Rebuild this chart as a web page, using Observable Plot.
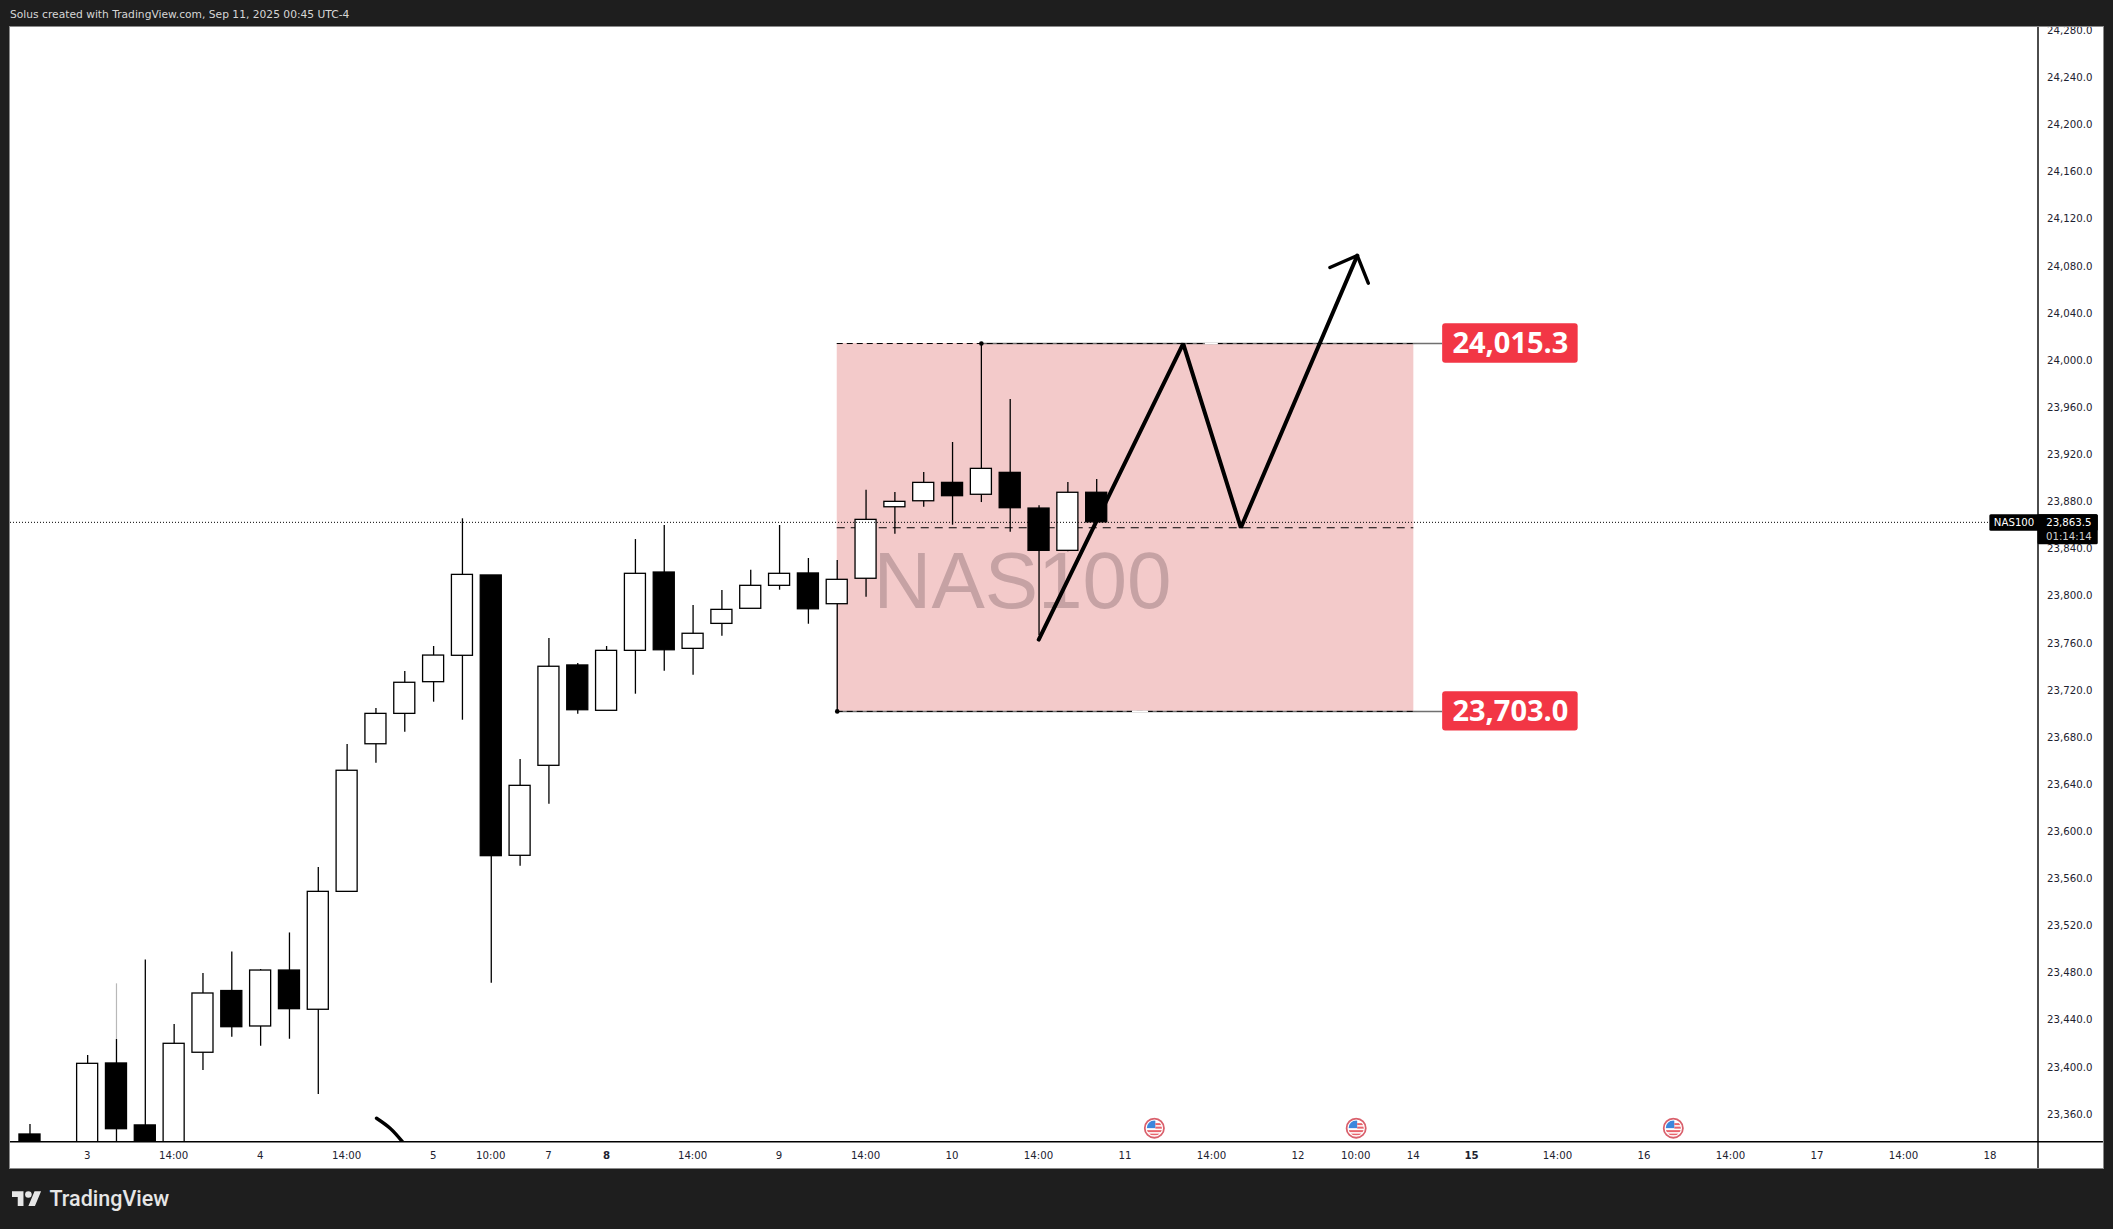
<!DOCTYPE html>
<html><head><meta charset="utf-8">
<script src="https://cdn.jsdelivr.net/npm/d3@7"></script>
<script src="https://cdn.jsdelivr.net/npm/@observablehq/plot@0.6"></script>
<style>
html,body{margin:0;padding:0;background:#1e1e1e;width:2113px;height:1229px;overflow:hidden}
#hdr{position:absolute;left:10px;top:7px;color:#d6d6d6;font:10.7px/16px "DejaVu Sans",sans-serif;white-space:nowrap}
#chart{position:absolute;left:10px;top:27px}
#chart svg{display:block;outline:1px solid #8a8a8a}
#logo{position:absolute;left:12px;top:1187px;display:flex;align-items:center;color:#e6e6e6;font:500 21.5px/24px Roboto,sans-serif}
#logo svg{margin-right:8px;display:block}
</style></head><body>
<div id="hdr">Solus created with TradingView.com, Sep 11, 2025 00:45 UTC-4</div>
<div id="chart"></div>
<div id="logo"><svg width="29.5" height="23" viewBox="0 0 36 28" fill="#e6e6e6"><path d="M14 22H7V11H0V4h14v18zM28 22h-8l7.5-18h8L28 22z"/><circle cx="20" cy="8" r="4"/></svg><span>TradingView</span></div>
<script>
// ---- data ----
const index  = [0,2,3,4,5,6,7,8,9,10,11,12,13,14,15,16,17,18,19,20,21,22,23,24,25,26,27,28,29,30,31,32,33,34,35,36,37];
const open   = [23343.8,23300,23404.1,23351.5,23300,23413.2,23465.6,23435.5,23483,23449.7,23549.8,23675.1,23700.9,23727.8,23750.2,23818.4,23580.4,23656.8,23742,23703.5,23754.4,23820.9,23756.1,23777.3,23790.1,23809.6,23820.1,23794,23815.6,23876.3,23881.4,23897,23886.9,23905.5,23875.2,23839.3,23888.6];
const close  = [23320,23403.8,23348.3,23300,23420.8,23463.5,23434.9,23483,23450.2,23549.8,23652.6,23700.9,23727.3,23750.4,23818.9,23580.1,23639.8,23740.9,23704,23754.4,23819.8,23754.9,23768.9,23789.2,23809.6,23819.8,23789.7,23814.7,23865.6,23880.9,23897,23885.7,23908.9,23875.5,23839.3,23888.6,23863.5];
const high   = [23352.3,23410.9,23424.5,23491.9,23437.2,23480.5,23498.8,23483.9,23514.9,23570.5,23674.9,23705.4,23736.9,23758.1,23866.5,23818.4,23662.2,23764.9,23743.7,23758.1,23848.9,23860.8,23792.9,23805.6,23822.9,23860.8,23832.8,23831.1,23890.8,23888.8,23905.8,23931.3,24015.3,23967.8,23877.5,23897.3,23899.8];
const low    = [23300,23290,23300,23290,23290,23398.1,23426.4,23418.8,23424.7,23377.8,23549.8,23659,23685.3,23710.8,23695.5,23472.3,23571.6,23624.2,23700.6,23703.5,23717.6,23737.1,23733.7,23766.8,23790.1,23805.9,23777,23703,23799.9,23853.4,23876.3,23861.1,23880.3,23855.1,23767.4,23838.5,23863.5];

const priceTicks = [23360,23400,23440,23480,23520,23560,23600,23640,23680,23720,23760,23800,23840,23880,23920,23960,24000,24040,24080,24120,24160,24200,24240,24280];
const timeTicks  = [2,5,8,11,14,16,18,23,26,29,32,35,38,41,44,46,48,53,56,59,62,65,68];
const timeLabels = ["3","14:00","4","14:00","5","10:00","7","14:00","9","14:00","10","14:00","11","14:00","12","10:00","14","14:00","16","14:00","17","14:00","18"];
const boldTicks  = [20,50];
const boldLabels = ["8","15"];

const zoneTop = 24015.3, zoneBottom = 23703.0, zoneMid = 23858.9, lastPrice = 23863.5;
const zoneStart = 28, zoneEnd = 48, tagStart = 49, tagEnd = 53.7;
const pathX = [34.99,40,42,46.04];
const pathY = [23764,24015.3,23858.9,24090];
const headX = [45.09,46.04,46.42];
const headY = [24079.8,24090,24066.5];
const arcX = [12.02,12.5,12.91];
const arcY = [23357.6,23348.9,23337.9];
const eventX = [39,46,57];
const eventY = 23349.2;

const xDomain = [-0.676,69.65], yDomain = [23337.6,24283.6];
const xPanelEnd = 71.92, yPanelEnd = 23315;

const candles = index.map((i,k)=>({i,open:open[k],close:close[k],high:high[k],low:low[k]}));
const up = candles.filter(d=>d.close>=d.open), down = candles.filter(d=>d.close<d.open);
const fmt = d3.format(",.1f");
const flag = "data:image/svg+xml;utf8,"+encodeURIComponent(`<svg xmlns="http://www.w3.org/2000/svg" viewBox="0 0 22 22"><circle cx="11" cy="11" r="9.6" fill="#fff" stroke="#d9606c" stroke-width="1.8"/><clipPath id="c"><circle cx="11" cy="11" r="7.6"/></clipPath><g clip-path="url(#c)"><rect x="3" y="3" width="9" height="8" fill="#3d86dc"/><rect x="12" y="6" width="8" height="2" fill="#e8646c"/><rect x="12" y="9.5" width="8" height="2" fill="#e8646c"/><rect x="3" y="13" width="16" height="2" fill="#e8646c"/><rect x="6" y="16.5" width="10" height="1.6" fill="#e8646c"/></g></svg>`);
const halfBody = 0.365;
const chart = Plot.plot({
  width:2093,height:1141,marginLeft:0,marginRight:65.5,marginTop:0,marginBottom:26.7,
  x:{type:"linear",domain:xDomain},
  y:{type:"linear",domain:yDomain},
  style:{fontFamily:"'DejaVu Sans',sans-serif",fontSize:"10.2px",color:"#1d2230",background:"#fff",overflow:"hidden"},
  marks:[
    Plot.rect([0],{x1:zoneStart,x2:zoneEnd,y1:zoneBottom,y2:zoneTop,fill:"#f3caca"}),
    Plot.text(["NAS100"],{x:[34.43],y:[23812.6],text:d=>d,fontFamily:"'Liberation Sans',Arial,sans-serif",fontSize:80,fill:"#c6a2a4"}),
    // zone borders
    Plot.ruleY([zoneTop],{x1:33,x2:tagStart,stroke:"#707070",strokeWidth:1.5}),
    Plot.ruleY([zoneBottom],{x1:zoneStart,x2:tagStart,stroke:"#707070",strokeWidth:1.5}),
    Plot.ruleY([zoneTop,zoneBottom],{x1:zoneStart,x2:zoneEnd,stroke:"#000",strokeWidth:1,strokeDasharray:"6,4"}),
    Plot.ruleY([zoneMid],{x1:zoneStart,x2:zoneEnd,stroke:"#000",strokeWidth:1,strokeDasharray:"8,6"}),
    Plot.ruleY([zoneTop],{x1:40.77,x2:41.22,stroke:"#fff",strokeWidth:1.6}),
    Plot.ruleY([zoneBottom],{x1:38.24,x2:38.8,stroke:"#fff",strokeWidth:1.6}),
    // grey wick extension
    Plot.ruleX([3],{y1:23424.5,y2:23471.7,stroke:"#b8b8b8",strokeWidth:1.2}),
    // arrow
    Plot.line(pathX.map((x,k)=>[x,pathY[k]]),{stroke:"#000",strokeWidth:4,strokeLinejoin:"miter",strokeLinecap:"round"}),
    Plot.line(headX.map((x,k)=>[x,headY[k]]),{stroke:"#000",strokeWidth:3.4,strokeLinejoin:"miter",strokeLinecap:"round"}),
    Plot.line(arcX.map((x,k)=>[x,arcY[k]]),{stroke:"#000",strokeWidth:3.4,curve:"natural",clip:true}),
    // candles
    Plot.ruleX(candles,{x:"i",y1:"low",y2:"high",stroke:"#000",strokeWidth:1.3,clip:true}),
    Plot.rect(up,{x1:d=>d.i-halfBody,x2:d=>d.i+halfBody,y1:"open",y2:"close",fill:"#fff",stroke:"#000",strokeWidth:1.3,clip:true}),
    Plot.rect(down,{x1:d=>d.i-halfBody,x2:d=>d.i+halfBody,y1:"open",y2:"close",fill:"#000",stroke:"#000",strokeWidth:1.3,clip:true}),
    Plot.dot([[33,zoneTop],[zoneStart,zoneBottom]],{r:2.3,fill:"#000"}),
    // last price line
    Plot.ruleY([lastPrice],{x1:xDomain[0],x2:67.98,stroke:"#000",strokeWidth:1,strokeDasharray:"1,2"}),
    // level tags
    Plot.rect([zoneTop,zoneBottom],{x1:tagStart,x2:tagEnd,y1:d=>d-16.7,y2:d=>d+16.7,fill:"#f23645",rx:3}),
    Plot.text([zoneTop,zoneBottom],{x:(tagStart+tagEnd)/2,y:d=>d,text:d=>fmt(d),fill:"#fff",fontFamily:"'Open Sans',sans-serif",fontWeight:700,fontSize:29}),
    // events
    Plot.image(eventX,{x:d=>d,y:()=>eventY,src:()=>flag,width:22,height:22}),
    // axes
    Plot.axisX({ticks:timeTicks,tickFormat:d=>timeLabels[timeTicks.indexOf(d)],tickSize:0,tickPadding:10,label:null,dx:-0.5}),
    Plot.axisX({ticks:boldTicks,tickFormat:d=>boldLabels[boldTicks.indexOf(d)],tickSize:0,tickPadding:10,label:null,fontWeight:700}),
    Plot.axisY({anchor:"right",ticks:priceTicks,tickFormat:fmt,tickSize:0,tickPadding:9,label:null,dy:-1}),
    Plot.ruleY([yDomain[0]],{x1:xDomain[0],x2:xPanelEnd,stroke:"#000",strokeWidth:1.4}),
    Plot.ruleX([xDomain[1]],{y1:yDomain[1],y2:yPanelEnd,stroke:"#000",strokeWidth:1.4}),
    // symbol + price tags
    Plot.rect([0],{x1:67.98,x2:71.74,y1:23855.96,y2:23869.9,fill:"#000",rx:1.5}),
    Plot.rect([0],{x1:69.65,x2:71.74,y1:23844.4,y2:23869.9,fill:"#000",rx:1.5}),
    Plot.text(["NAS100"],{x:[68.82],y:[lastPrice],text:d=>d,fill:"#fff"}),
    Plot.text([lastPrice],{x:[70.72],y:d=>d,text:d=>fmt(d),fill:"#fff"}),
    Plot.text(["01:14:14"],{x:[70.72],y:[23851.5],text:d=>d,fill:"#cfcfcf"})
  ]
});
document.getElementById("chart").append(chart);
</script>
</body></html>
